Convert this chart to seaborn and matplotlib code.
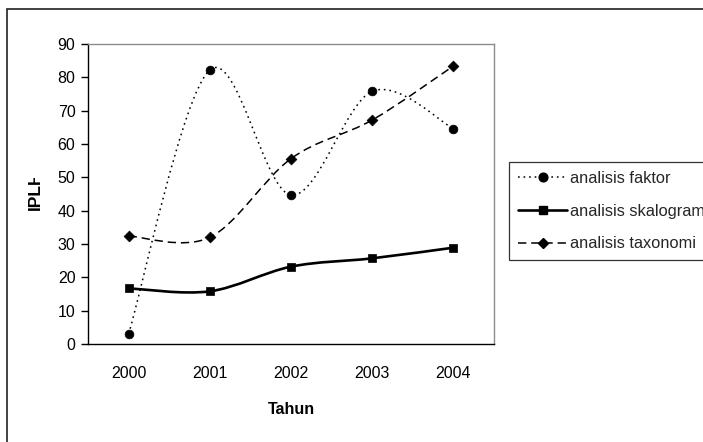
import numpy as np
import pandas as pd
import matplotlib
matplotlib.use('Agg')
import matplotlib.pyplot as plt
import seaborn as sns
from matplotlib.path import Path
from matplotlib.patches import PathPatch, Rectangle
from matplotlib.lines import Line2D
from matplotlib.transforms import Bbox

# ---- data ----
years = ['2000', '2001', '2002', '2003', '2004']
faktor = [3.0, 82.2, 44.7, 75.8, 64.6]
skalogram = [16.7, 15.8, 23.2, 25.7, 28.9]
taxonomi = [32.4, 32.0, 55.6, 67.2, 83.4]
series_names = ['analisis faktor', 'analisis skalogram', 'analisis taxonomi']
y_ticks = [0, 10, 20, 30, 40, 50, 60, 70, 80, 90]

df = pd.DataFrame({
    'Tahun': years * 3,
    'pos': list(range(len(years))) * 3,
    'IPLH': faktor + skalogram + taxonomi,
    'series': sum([[s] * len(years) for s in series_names], []),
})

sns.set_theme(style='white')
plt.rcParams['font.family'] = ['Liberation Sans', 'DejaVu Sans']
plt.rcParams['lines.scale_dashes'] = False

W, H = 703, 442
fig = plt.figure(figsize=(W / 100, H / 100), dpi=100)
fig.patch.set_facecolor('white')
ax = fig.add_axes([88 / W, 98 / H, 406 / W, 300 / H])

styles = {
    'analisis faktor': dict(ls=(0, (1.2, 2.8)), lw=1.1, marker='o', ms=6.3),
    'analisis skalogram': dict(ls='-', lw=1.9, marker='s', ms=6.0),
    'analisis taxonomi': dict(ls=(0, (6, 3.5)), lw=1.1, marker='D', ms=5.5),
}


def smooth_path(xs, ys):
    """Excel-style smoothed line (Catmull-Rom Bezier through the points)."""
    pts = np.column_stack([xs, ys]).astype(float)
    n = len(pts)
    verts = [pts[0]]
    codes = [Path.MOVETO]
    for i in range(n - 1):
        p0 = pts[max(i - 1, 0)]
        p1 = pts[i]
        p2 = pts[i + 1]
        p3 = pts[min(i + 2, n - 1)]
        c1 = p1 + (p2 - p0) / 6.0
        c2 = p2 - (p3 - p1) / 6.0
        verts += [c1, c2, p2]
        codes += [Path.CURVE4] * 3
    return Path(verts, codes)


for name in series_names:
    sub = df[df['series'] == name]
    st = styles[name]
    patch = PathPatch(smooth_path(sub['pos'].values, sub['IPLH'].values),
                      fill=False, edgecolor='black', linewidth=st['lw'],
                      linestyle=st['ls'], capstyle='butt', zorder=2)
    ax.add_patch(patch)
    sns.scatterplot(data=sub, x='pos', y='IPLH', marker=st['marker'],
                    s=(st['ms']) ** 2, color='black', edgecolor='black',
                    linewidth=0.5, legend=False, ax=ax, zorder=3)

ax.set_xlim(-0.5, len(years) - 0.5)
ax.set_ylim(0, 90)
ax.set_yticks(y_ticks)
ax.set_yticklabels([str(v) for v in y_ticks], fontsize=11.5, color='black')
ax.set_xticks(np.arange(-0.5, len(years), 1.0))
ax.set_xticklabels([''] * (len(years) + 1))
ax.set_xticks(np.arange(len(years)), minor=True)
ax.set_xticklabels(years, minor=True, fontsize=11.5, color='black')
ax.tick_params(axis='x', which='major', direction='inout', length=11,
               width=1, color='black')
ax.tick_params(axis='x', which='minor', length=0, pad=16)
ax.tick_params(axis='y', which='major', direction='out', length=5,
               width=1, color='black', pad=4, left=True)

for s in ['left', 'bottom']:
    ax.spines[s].set_color('black')
    ax.spines[s].set_linewidth(1.0)
for s in ['top', 'right']:
    ax.spines[s].set_color('#8c8c8c')
    ax.spines[s].set_linewidth(1.0)

ax.set_xlabel('')
ax.set_ylabel('')
fig.text(291 / W, 1 - 409 / H, 'Tahun', ha='center', va='center',
         fontsize=11.5, fontweight='bold', color='black')

ylab = fig.text(35.5 / W, 1 - 210 / H, 'IPLH', rotation=90, ha='center',
                va='bottom', fontsize=12.5, fontweight='bold', color='black')
ylab.set_clip_on(True)
ylab.set_clip_box(Bbox.from_extents(0, 0, 100, H - 178))

handles = [Line2D([], [], color='black', linestyle=styles[n]['ls'],
                  linewidth=styles[n]['lw'], marker=styles[n]['marker'],
                  markersize=styles[n]['ms'], markerfacecolor='black',
                  markeredgecolor='black')
           for n in series_names]
leg = fig.legend(handles, series_names, loc='upper left',
                 bbox_to_anchor=(509 / W, 1 - 162 / H),
                 bbox_transform=fig.transFigure,
                 fontsize=11.8, frameon=True, fancybox=False, shadow=False,
                 handlelength=3.0, handletextpad=0.2, labelspacing=1.08,
                 borderpad=0.55, borderaxespad=0, numpoints=1)
leg.get_frame().set_edgecolor('black')
leg.get_frame().set_linewidth(0.9)
leg.get_frame().set_facecolor('white')

frame = Rectangle((7 / W, -0.5), 2.0, (1 - 9 / H) + 0.5,
                  transform=fig.transFigure, fill=False,
                  edgecolor='#222222', linewidth=1.2, clip_on=False)
fig.add_artist(frame)

fig.savefig('out.png', dpi=100)
